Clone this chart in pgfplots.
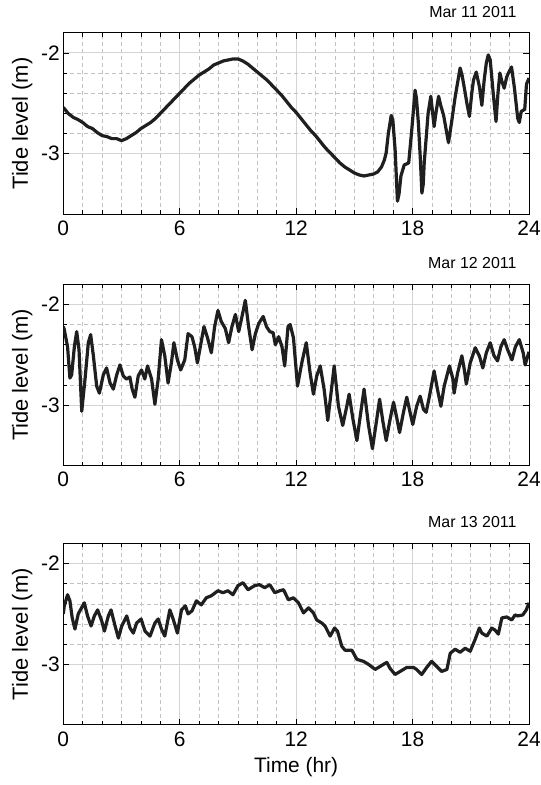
\documentclass[border=0pt]{standalone}
\usepackage{fontspec}
\setmainfont{Liberation Sans}
\usepackage{pgfplots}
\usepackage{pgfplotstable}
\pgfplotsset{compat=1.18}

\pgfplotstableread{
t v
0 -2.54
0.25 -2.60
0.52 -2.64
0.75 -2.66
1 -2.69
1.25 -2.73
1.5 -2.75
1.75 -2.79
2 -2.82
2.25 -2.83
2.5 -2.85
2.75 -2.85
3 -2.87
3.25 -2.85
3.5 -2.82
3.75 -2.79
4 -2.75
4.25 -2.72
4.5 -2.69
4.75 -2.65
5 -2.60
5.25 -2.55
5.5 -2.50
5.75 -2.45
6 -2.40
6.25 -2.35
6.5 -2.30
6.75 -2.26
7 -2.22
7.25 -2.19
7.5 -2.16
7.75 -2.12
8 -2.10
8.25 -2.08
8.5 -2.07
8.75 -2.06
9 -2.06
9.25 -2.08
9.5 -2.11
9.75 -2.15
10 -2.19
10.25 -2.23
10.5 -2.27
10.75 -2.32
11 -2.37
11.25 -2.42
11.5 -2.48
11.75 -2.54
12 -2.59
12.25 -2.65
12.5 -2.71
12.75 -2.77
13 -2.82
13.25 -2.88
13.5 -2.94
13.75 -2.99
14 -3.04
14.25 -3.09
14.5 -3.13
14.75 -3.16
15 -3.19
15.25 -3.21
15.5 -3.22
15.75 -3.21
16 -3.20
16.2 -3.18
16.4 -3.13
16.55 -3.06
16.64 -2.99
16.75 -2.80
16.9 -2.62
16.98 -2.66
17.1 -2.96
17.22 -3.47
17.3 -3.40
17.4 -3.22
17.57 -3.11
17.7 -3.10
17.8 -3.09
17.96 -2.76
18.13 -2.37
18.2 -2.45
18.3 -2.70
18.4 -3.05
18.48 -3.39
18.55 -3.30
18.6 -3.09
18.8 -2.60
18.94 -2.43
19.11 -2.73
19.2 -2.60
19.34 -2.43
19.45 -2.52
19.6 -2.62
19.85 -2.89
20.0 -2.70
20.2 -2.43
20.45 -2.15
20.55 -2.22
20.66 -2.34
20.8 -2.50
20.93 -2.63
21.05 -2.40
21.14 -2.27
21.28 -2.19
21.45 -2.34
21.57 -2.52
21.69 -2.27
21.8 -2.10
21.9 -2.02
22.0 -2.07
22.17 -2.43
22.3 -2.68
22.4 -2.40
22.5 -2.20
22.6 -2.28
22.72 -2.35
22.85 -2.24
22.94 -2.20
23.1 -2.14
23.25 -2.35
23.42 -2.65
23.5 -2.69
23.6 -2.58
23.78 -2.56
23.87 -2.31
24 -2.25
}\dayA

\pgfplotstableread{
t v
0 -2.22
0.05 -2.25
0.22 -2.42
0.34 -2.73
0.43 -2.70
0.57 -2.42
0.69 -2.27
0.81 -2.45
0.95 -3.06
1.12 -2.74
1.29 -2.38
1.41 -2.30
1.55 -2.51
1.72 -2.81
1.86 -2.88
2.06 -2.70
2.23 -2.63
2.41 -2.78
2.58 -2.84
2.75 -2.70
2.92 -2.60
3.09 -2.71
3.26 -2.74
3.43 -2.72
3.55 -2.84
3.69 -2.92
3.86 -2.71
4.03 -2.65
4.2 -2.74
4.34 -2.61
4.55 -2.74
4.72 -2.99
4.89 -2.74
5.06 -2.35
5.23 -2.51
5.4 -2.78
5.57 -2.58
5.7 -2.38
5.88 -2.55
6.05 -2.65
6.26 -2.55
6.43 -2.29
6.63 -2.32
6.77 -2.42
6.91 -2.58
7.08 -2.40
7.25 -2.22
7.43 -2.33
7.63 -2.48
7.8 -2.22
7.97 -2.06
8.14 -2.17
8.35 -2.24
8.52 -2.38
8.69 -2.22
8.87 -2.10
9.04 -2.27
9.21 -2.12
9.38 -1.96
9.55 -2.22
9.73 -2.45
9.9 -2.29
10.07 -2.19
10.3 -2.12
10.47 -2.22
10.64 -2.27
10.81 -2.28
10.93 -2.40
11.1 -2.32
11.27 -2.42
11.41 -2.61
11.58 -2.22
11.69 -2.20
11.86 -2.33
12.07 -2.81
12.29 -2.58
12.52 -2.38
12.72 -2.68
12.89 -2.89
13.06 -2.71
13.24 -2.61
13.44 -2.84
13.63 -3.15
13.84 -2.81
13.96 -2.61
14.18 -3.01
14.4 -3.20
14.61 -3.01
14.73 -2.89
14.92 -3.13
15.13 -3.35
15.33 -3.07
15.5 -2.84
15.73 -3.20
15.93 -3.43
16.16 -3.13
16.3 -2.94
16.47 -3.16
16.64 -3.35
16.85 -3.13
17.02 -2.97
17.19 -3.13
17.33 -3.27
17.53 -3.07
17.7 -2.92
17.87 -3.07
18.01 -3.19
18.21 -3.01
18.39 -2.91
18.56 -3.04
18.7 -3.07
18.87 -2.91
19.11 -2.66
19.28 -2.84
19.46 -3.01
19.63 -2.81
19.9 -2.61
20.08 -2.74
20.14 -2.88
20.32 -2.68
20.54 -2.51
20.66 -2.64
20.77 -2.79
20.97 -2.58
21.23 -2.43
21.44 -2.51
21.62 -2.63
21.8 -2.48
22.0 -2.38
22.2 -2.51
22.38 -2.56
22.55 -2.42
22.72 -2.35
22.9 -2.45
23.12 -2.55
23.3 -2.42
23.5 -2.35
23.7 -2.48
23.8 -2.60
24 -2.47
}\dayB

\pgfplotstableread{
t v
0 -2.50
0.05 -2.42
0.22 -2.31
0.34 -2.37
0.46 -2.54
0.6 -2.65
0.77 -2.50
1.08 -2.39
1.25 -2.52
1.43 -2.62
1.6 -2.52
1.77 -2.46
1.98 -2.57
2.12 -2.67
2.32 -2.52
2.46 -2.46
2.67 -2.62
2.84 -2.74
3.01 -2.62
3.27 -2.52
3.44 -2.64
3.61 -2.69
3.78 -2.59
4.01 -2.55
4.21 -2.67
4.47 -2.72
4.72 -2.59
4.89 -2.55
5.06 -2.65
5.23 -2.72
5.49 -2.46
5.66 -2.55
5.88 -2.69
6.09 -2.46
6.29 -2.42
6.43 -2.50
6.63 -2.47
6.86 -2.37
7.11 -2.41
7.37 -2.34
7.63 -2.32
7.97 -2.27
8.23 -2.29
8.48 -2.27
8.74 -2.31
9.0 -2.22
9.26 -2.19
9.52 -2.26
9.86 -2.22
10.1 -2.21
10.38 -2.24
10.64 -2.21
10.9 -2.29
11.16 -2.27
11.35 -2.26
11.6 -2.36
11.86 -2.34
12.12 -2.39
12.38 -2.49
12.64 -2.44
12.89 -2.49
13.06 -2.56
13.32 -2.59
13.49 -2.62
13.75 -2.72
13.98 -2.64
14.13 -2.67
14.35 -2.82
14.52 -2.86
14.87 -2.86
15.13 -2.95
15.47 -2.97
15.73 -3.00
16.07 -3.05
16.33 -3.02
16.67 -2.98
16.84 -3.04
17.1 -3.10
17.36 -3.07
17.7 -3.03
18.04 -3.03
18.21 -3.05
18.47 -3.10
18.73 -3.03
18.98 -2.97
19.24 -3.02
19.5 -3.07
19.77 -3.05
19.94 -2.89
20.19 -2.85
20.45 -2.88
20.71 -2.84
20.97 -2.87
21.23 -2.75
21.44 -2.64
21.57 -2.69
21.83 -2.72
22.08 -2.64
22.25 -2.66
22.42 -2.70
22.6 -2.54
22.85 -2.53
23.11 -2.56
23.28 -2.51
23.42 -2.52
23.68 -2.51
23.86 -2.46
24 -2.39
}\dayC

\pgfplotsset{
  tidestyle/.style={
    scale only axis, width=465.7bp, height=181.6bp,
    xmin=0, xmax=24, ymin=-3.6, ymax=-1.8,
    xtick={0,6,12,18,24}, minor x tick num=5,
    ytick={-3,-2}, minor y tick num=4,
    grid=both,
    major grid style={draw=black!17, line width=0.9bp},
    minor grid style={draw=black!24, line width=0.6bp, dash pattern=on 4bp off 3bp},
    tick align=inside,
    major tick length=6bp, minor tick length=4bp,
    every tick/.style={black, line width=0.7bp},
    axis line style={black, line width=0.9bp},
    tick label style={font=\fontsize{21}{24}\selectfont},
    xticklabel style={yshift=-3bp},
    /pgf/number format/assume math mode=true,
    ylabel={Tide level (m)},
    ylabel style={font=\fontsize{22}{26}\selectfont, at={(axis description cs:-0.0758,0.5)}, anchor=base},
    title style={font=\fontsize{16}{19}\selectfont, at={(axis description cs:1,1)}, anchor=base east, xshift=-9bp, yshift=9.4bp},
  },
  tideline/.style={color=black!88, line width=3.2bp, line join=round},
}

\begin{document}
\begin{tikzpicture}
\useasboundingbox (0,0) rectangle (541bp,-785bp);
\begin{axis}[tidestyle, at={(63.3bp,-32.7bp)}, anchor=north west, title={Mar 11 2011}]
\addplot[tideline] table[x=t,y=v] {\dayA};
\end{axis}
\begin{axis}[tidestyle, at={(63.3bp,-284.2bp)}, anchor=north west, title={Mar 12 2011}]
\addplot[tideline] table[x=t,y=v] {\dayB};
\end{axis}
\begin{axis}[tidestyle, at={(63.3bp,-543.3bp)}, anchor=north west, title={Mar 13 2011},
  xlabel={Time (hr)},
  xlabel style={font=\fontsize{21}{24}\selectfont, at={(axis description cs:0.5,-0.261)}, anchor=base}]
\addplot[tideline] table[x=t,y=v] {\dayC};
\end{axis}
\end{tikzpicture}
\end{document}
